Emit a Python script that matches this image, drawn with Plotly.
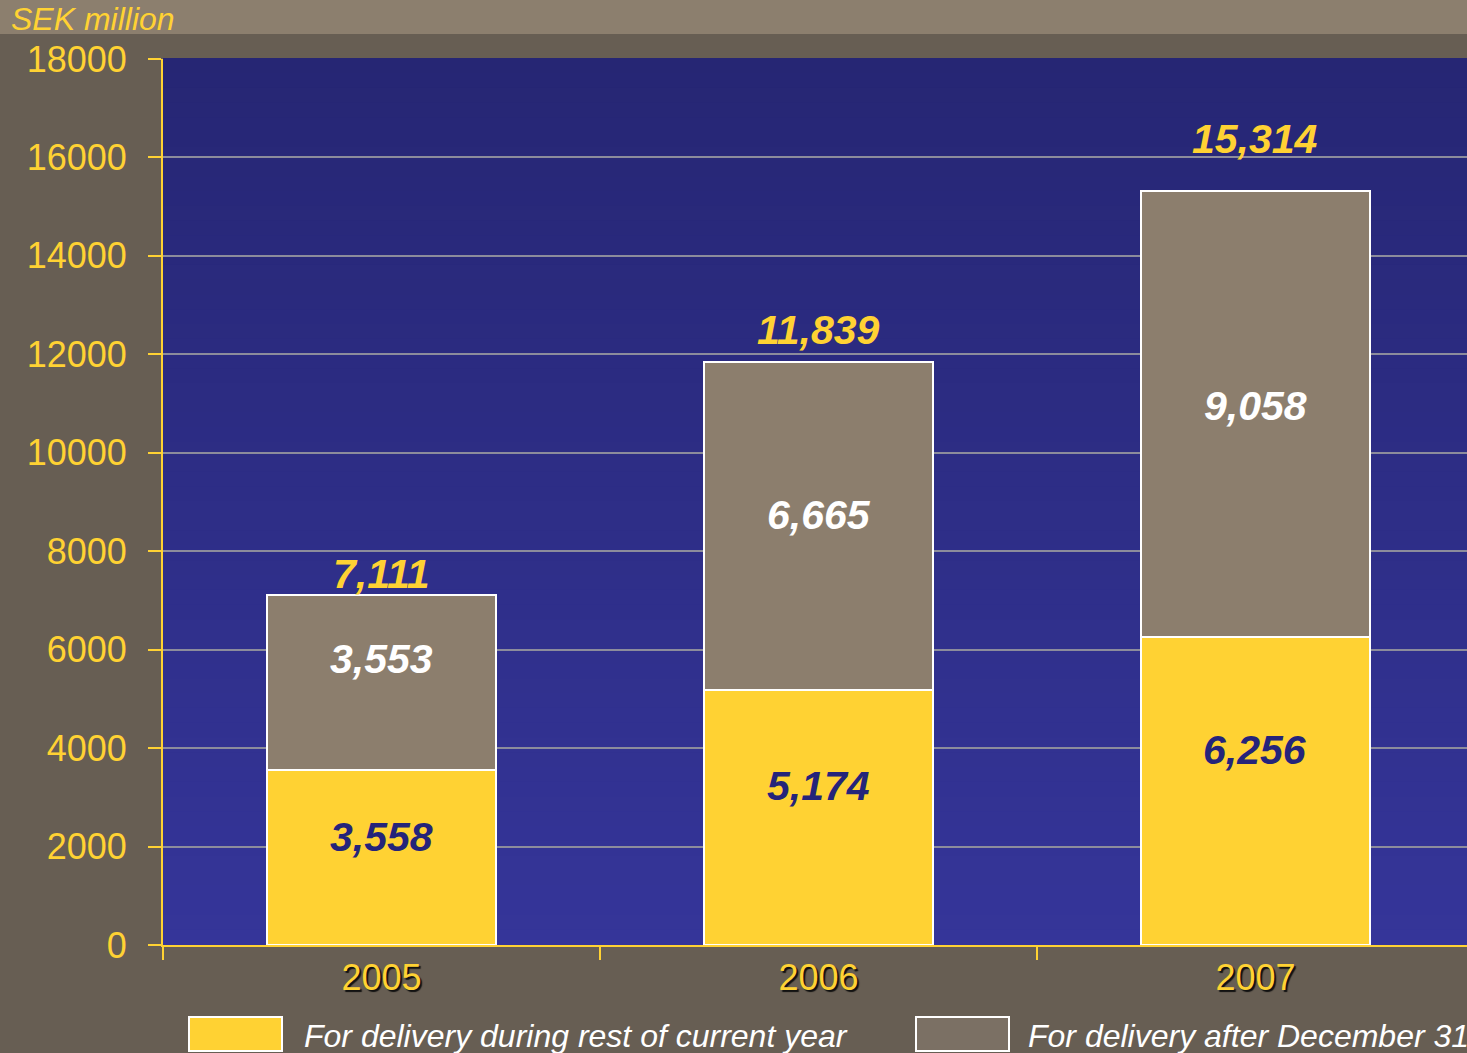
import plotly.graph_objects as go

years = ["2005", "2006", "2007"]
current_year = [3558, 5174, 6256]
after_dec31 = [3553, 6665, 9058]
totals = [7111, 11839, 15314]
y_ticks = [0, 2000, 4000, 6000, 8000, 10000, 12000, 14000, 16000, 18000]
legend_names = ["For delivery during rest of current year", "For delivery after December 31"]

YELLOW = "#ffd233"
TAUPE = "#8c7e6d"
NAVY = "#25247a"
BG = "#675e53"
BAND = "#8c7f6e"

W, H = 1467, 1053
L, R, T, B = 163, 0, 59, 108
PW, PH = W - L - R, H - T - B

def px_x(px):
    return (px - L) / PW

def px_y(py):
    return (H - B - py) / PH

fig = go.Figure()
fig.add_trace(go.Bar(x=years, y=current_year, name=legend_names[0], width=0.526,
                     marker=dict(color=YELLOW, line=dict(color="white", width=2))))
fig.add_trace(go.Bar(x=years, y=after_dec31, name=legend_names[1], width=0.526,
                     marker=dict(color=TAUPE, line=dict(color="white", width=2))))

shapes = []
# gradient plot background
n = 60
top = (38, 38, 116)
bot = (53, 53, 153)
for i in range(n):
    t = i / (n - 1)
    c = tuple(round(top[k] + (bot[k] - top[k]) * t) for k in range(3))
    shapes.append(dict(type="rect", xref="paper", yref="paper", x0=0, x1=1.01,
                       y0=1 - (i + 1) / n, y1=1 - i / n + 0.001, layer="below",
                       line=dict(width=0), fillcolor="rgb(%d,%d,%d)" % c))
# top band
shapes.append(dict(type="rect", xref="paper", yref="paper", x0=px_x(-5), x1=px_x(W + 5),
                   y0=px_y(34), y1=px_y(-5), line=dict(width=0), fillcolor=BAND, layer="below"))
# legend boxes
shapes.append(dict(type="rect", xref="paper", yref="paper", x0=px_x(189), x1=px_x(282),
                   y0=px_y(1051), y1=px_y(1017), line=dict(color="white", width=2), fillcolor=YELLOW))
shapes.append(dict(type="rect", xref="paper", yref="paper", x0=px_x(916), x1=px_x(1009),
                   y0=px_y(1051), y1=px_y(1017), line=dict(color="white", width=2), fillcolor="#7b7064"))

ann = []
bold_it = dict(family="Liberation Sans, Arial, sans-serif", size=41, weight="bold", style="italic")
total_shift = [21, 32, 52]
for i, yr in enumerate(years):
    ann.append(dict(x=i, y=totals[i], text=f"{totals[i]:,}", showarrow=False, yanchor="middle",
                    yshift=total_shift[i], font=dict(bold_it, color=YELLOW)))
cur_shift = [20, 32, 41]
aft_shift = [23, 11, 8]
for i, yr in enumerate(years):
    ann.append(dict(x=i, y=current_year[i] / 2, text=f"{current_year[i]:,}", showarrow=False,
                    yshift=cur_shift[i], font=dict(bold_it, color=NAVY)))
    ann.append(dict(x=i, y=current_year[i] + after_dec31[i] / 2, text=f"{after_dec31[i]:,}",
                    showarrow=False, yshift=aft_shift[i], font=dict(bold_it, color="white")))

leg_font = dict(family="Liberation Sans Narrow, Arial Narrow, Liberation Sans, Arial", size=32,
                style="italic", color="white")
ann.append(dict(xref="paper", yref="paper", x=px_x(302), y=px_y(1036), xanchor="left", yanchor="middle",
                text=legend_names[0], showarrow=False, font=leg_font))
ann.append(dict(xref="paper", yref="paper", x=px_x(1026), y=px_y(1036), xanchor="left", yanchor="middle",
                text=legend_names[1], showarrow=False, font=leg_font))
ann.append(dict(xref="paper", yref="paper", x=px_x(9), y=px_y(19), xanchor="left", yanchor="middle",
                text="SEK million", showarrow=False,
                font=dict(family="Liberation Sans, Arial", size=32, style="italic", color=YELLOW)))

fig.update_layout(
    width=W, height=H, margin=dict(l=L, r=R, t=T, b=B),
    barmode="stack", showlegend=False,
    paper_bgcolor=BG, plot_bgcolor="rgba(0,0,0,0)",
    shapes=shapes, annotations=ann,
    xaxis=dict(type="category", range=[-0.5, 2.484], showgrid=False, showline=True,
               linecolor=YELLOW, linewidth=2, ticks="outside", tickson="boundaries",
               ticklen=13, tickwidth=2, tickcolor=YELLOW,
               tickfont=dict(family="Liberation Sans Narrow, Arial Narrow, Liberation Sans, Arial",
                             size=36, color=YELLOW, shadow="2px 2px 1px #111111")),
    yaxis=dict(range=[0, 18000], tickvals=y_ticks, ticktext=[str(v) for v in y_ticks],
               showgrid=True, gridcolor="#8c8c9c", gridwidth=2, zeroline=False,
               showline=True, linecolor=YELLOW, linewidth=2, ticks="outside", ticklen=13,
               tickwidth=2, tickcolor=YELLOW, ticklabelstandoff=14,
               tickfont=dict(family="Liberation Sans, Arial", size=36, color=YELLOW)),
)

fig.write_html("out.html")
